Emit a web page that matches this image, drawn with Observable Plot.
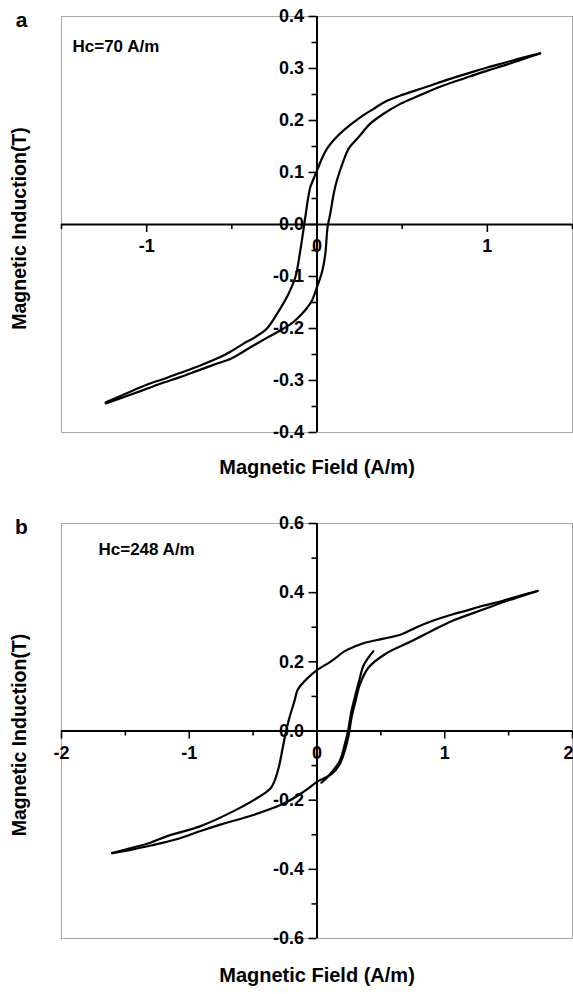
<!DOCTYPE html>
<html><head><meta charset="utf-8">
<script src="https://cdn.jsdelivr.net/npm/d3@7"></script>
<script src="https://cdn.jsdelivr.net/npm/@observablehq/plot@0.6"></script>
<style>
body{margin:0;background:#fff}
#chart svg{display:block}
</style>
</head><body><div id="chart"></div>
<script>
// ---------- Panel a data ----------
const upperA_H = [1.31, 1.2, 1.1, 1.0, 0.9, 0.8, 0.7, 0.6, 0.49, 0.40, 0.33, 0.25, 0.156, 0.10, 0.059, 0.03, 0.004, -0.02, -0.039, -0.055, -0.063, -0.075, -0.098, -0.127, -0.167, -0.235, -0.294, -0.36, -0.431, -0.5, -0.568, -0.7, -0.8, -0.9, -1.0, -1.1, -1.24];
const upperA_B = [0.329, 0.320, 0.311, 0.302, 0.292, 0.282, 0.271, 0.260, 0.248, 0.236, 0.222, 0.205, 0.181, 0.163, 0.146, 0.128, 0.107, 0.088, 0.072, 0.045, 0.027, 0.0, -0.05, -0.101, -0.133, -0.172, -0.2, -0.216, -0.229, -0.243, -0.255, -0.273, -0.285, -0.297, -0.308, -0.322, -0.342];
const lowerA_H = [-1.24, -1.1, -1.0, -0.9, -0.8, -0.7, -0.6, -0.5, -0.39, -0.3, -0.196, -0.14, -0.098, -0.06, -0.029, 0.0, 0.029, 0.049, 0.062, 0.078, 0.098, 0.117, 0.156, 0.186, 0.244, 0.313, 0.391, 0.489, 0.6, 0.7, 0.8, 0.9, 1.0, 1.1, 1.2, 1.31];
const lowerA_B = [-0.344, -0.328, -0.316, -0.304, -0.293, -0.281, -0.269, -0.257, -0.236, -0.219, -0.2, -0.188, -0.175, -0.161, -0.146, -0.12, -0.092, -0.056, -0.005, 0.021, 0.059, 0.085, 0.123, 0.146, 0.168, 0.194, 0.213, 0.232, 0.248, 0.262, 0.274, 0.285, 0.296, 0.306, 0.317, 0.329];

// ---------- Panel b data ----------
const upperB_H = [1.727, 1.6, 1.45, 1.3, 1.15, 1.057, 0.9, 0.78, 0.664, 0.52, 0.375, 0.3, 0.217, 0.113, 0.008, -0.071, -0.15, -0.176, -0.216, -0.242, -0.268, -0.307, -0.36, -0.465, -0.649, -0.911, -1.173, -1.305, -1.45, -1.604];
const upperB_B = [0.405, 0.392, 0.376, 0.362, 0.346, 0.337, 0.318, 0.30, 0.28, 0.267, 0.255, 0.245, 0.231, 0.202, 0.178, 0.154, 0.12, 0.087, 0.038, 0.0, -0.048, -0.116, -0.164, -0.193, -0.231, -0.275, -0.304, -0.323, -0.338, -0.353];
const lowerB_H = [-1.604, -1.45, -1.3, -1.1, -0.911, -0.75, -0.517, -0.255, -0.098, 0.008, 0.113, 0.178, 0.217, 0.249, 0.27, 0.302, 0.336, 0.402, 0.532, 0.743, 0.9, 1.057, 1.2, 1.35, 1.5, 1.6, 1.727];
const lowerB_B = [-0.353, -0.343, -0.331, -0.313, -0.289, -0.27, -0.245, -0.209, -0.174, -0.145, -0.125, -0.096, -0.058, -0.01, 0.038, 0.087, 0.135, 0.183, 0.222, 0.26, 0.29, 0.318, 0.338, 0.358, 0.378, 0.39, 0.405];
const minorB_H = [0.034, 0.07, 0.113, 0.178, 0.217, 0.243, 0.27, 0.302, 0.336, 0.362, 0.402, 0.441];
const minorB_B = [-0.149, -0.138, -0.12, -0.087, -0.039, 0.0, 0.058, 0.106, 0.154, 0.188, 0.212, 0.231];

// ---------- Ticks & labels ----------
const xMajorA = [-1, 0, 1];
const xMajorLabelsA = ["-1", "0", "1"];
const xMinorA = [-1.5, -0.5, 0.5, 1.5];
const yMajorA = [-0.4, -0.3, -0.2, -0.1, 0.0, 0.1, 0.2, 0.3, 0.4];
const yMajorLabelsA = ["-0.4", "-0.3", "-0.2", "-0.1", "0.0", "0.1", "0.2", "0.3", "0.4"];
const yMinorA = [-0.35, -0.25, -0.15, -0.05, 0.05, 0.15, 0.25, 0.35];

const xMajorB = [-2, -1, 0, 1, 2];
const xMajorLabelsB = ["-2", "-1", "0", "1", "2"];
const xMinorB = [-1.5, -0.5, 0.5, 1.5];
const yMajorB = [-0.6, -0.4, -0.2, 0.0, 0.2, 0.4, 0.6];
const yMajorLabelsB = ["-0.6", "-0.4", "-0.2", "0.0", "0.2", "0.4", "0.6"];
const yMinorB = [-0.5, -0.3, -0.1, 0.1, 0.3, 0.5];

const xTitle = "Magnetic Field (A/m)";
const yTitle = "Magnetic Induction(T)";

const FONT = '"Liberation Sans", Arial, Helvetica, sans-serif';

function zip(H, B) { return H.map((h, i) => ({h, b: B[i]})); }

function panel(cfg) {
  const xLab = cfg.xMajor.map((v, i) => ({v, t: cfg.xLabels[i]}));
  const xmax = cfg.xDomain[1];
  const lineStyle = {x: "h", y: "b", stroke: "black", strokeWidth: 2.2, strokeLinejoin: "round", strokeLinecap: "round", curve: "catmull-rom"};
  const yLab = cfg.yMajor.map((v, i) => ({v, t: cfg.yLabels[i]}));
  const tickText = {fontSize: 18, fontWeight: "bold", fill: "black"};
  const marks = [
    Plot.frame({stroke: "#a6a6a6", strokeWidth: 1}),
    Plot.ruleY([0], {stroke: "black", strokeWidth: 2}),
    Plot.ruleX([0], {stroke: "black", strokeWidth: 2}),
    Plot.ruleX(cfg.xMajor, {x: d => d, y1: () => 0, y2: () => 0, insetBottom: -8, stroke: "black", strokeWidth: 1.6}),
    Plot.ruleX(cfg.xMinor, {x: d => d, y1: () => 0, y2: () => 0, insetBottom: -5, stroke: "black", strokeWidth: 1.6}),
    Plot.ruleY(cfg.yMajor, {y: d => d, x1: () => 0, x2: () => 0, insetLeft: -8, stroke: "black", strokeWidth: 1.6}),
    Plot.ruleY(cfg.yMinor, {y: d => d, x1: () => 0, x2: () => 0, insetLeft: -5, stroke: "black", strokeWidth: 1.6}),
    Plot.text(yLab, {x: () => 0, y: "v", text: "t", dx: -13, textAnchor: "end", ...tickText}),
    Plot.text(xLab.filter(d => d.v !== xmax), {x: "v", y: () => 0, text: "t", dy: 22, ...tickText}),
    Plot.text(xLab.filter(d => d.v === xmax), {x: "v", y: () => 0, text: "t", dy: 22, dx: -4, ...tickText}),
    ...cfg.lines.map(L => Plot.line(L, lineStyle)),
    Plot.text([cfg.letter], {frameAnchor: "top-left", dx: -40, dy: cfg.letterDy, text: d => d, textAnchor: "middle", lineAnchor: "middle", fontSize: 21, fontWeight: "bold", fill: "black"}),
    Plot.text([cfg.hc], {frameAnchor: "top-left", dx: cfg.hcDx, dy: cfg.hcDy, text: d => d, textAnchor: "start", lineAnchor: "middle", fontSize: 17, fontWeight: "bold", fill: "black"}),
    Plot.text([xTitle], {frameAnchor: "bottom", dy: cfg.xTitleDy, text: d => d, lineAnchor: "middle", fontSize: 20, fontWeight: "bold", fill: "black"}),
    Plot.text([yTitle], {frameAnchor: "left", dx: -42, dy: 4, rotate: -90, text: d => d, textAnchor: "middle", lineAnchor: "middle", fontSize: 19.5, fontWeight: "bold", fill: "black"})
  ];
  return Plot.plot({
    width: 573, height: cfg.height,
    marginLeft: 61, marginRight: 1, marginTop: cfg.mt, marginBottom: cfg.mb,
    x: {domain: cfg.xDomain, axis: null},
    y: {domain: cfg.yDomain, axis: null},
    style: {fontFamily: FONT, background: "white", overflow: "visible"},
    marks
  });
}

const chart = document.getElementById("chart");
chart.append(panel({
  height: 490, mt: 16, mb: 58,
  xDomain: [-1.5, 1.5], yDomain: [-0.4, 0.4],
  xMajor: xMajorA, xLabels: xMajorLabelsA, xMinor: xMinorA,
  yMajor: yMajorA, yLabels: yMajorLabelsA, yMinor: yMinorA,
  lines: [zip(upperA_H, upperA_B), zip(lowerA_H, lowerA_B)],
  letter: "a", letterDy: 4, hc: "Hc=70 A/m", hcDx: 11, hcDy: 30, xTitleDy: 35
}));
chart.append(panel({
  height: 504, mt: 33, mb: 56,
  xDomain: [-2, 2], yDomain: [-0.6, 0.6],
  xMajor: xMajorB, xLabels: xMajorLabelsB, xMinor: xMinorB,
  yMajor: yMajorB, yLabels: yMajorLabelsB, yMinor: yMinorB,
  lines: [zip(upperB_H, upperB_B), zip(lowerB_H, lowerB_B), zip(minorB_H, minorB_B)],
  letter: "b", letterDy: 4, hc: "Hc=248 A/m", hcDx: 37, hcDy: 26, xTitleDy: 37
}));
</script>
</body></html>
